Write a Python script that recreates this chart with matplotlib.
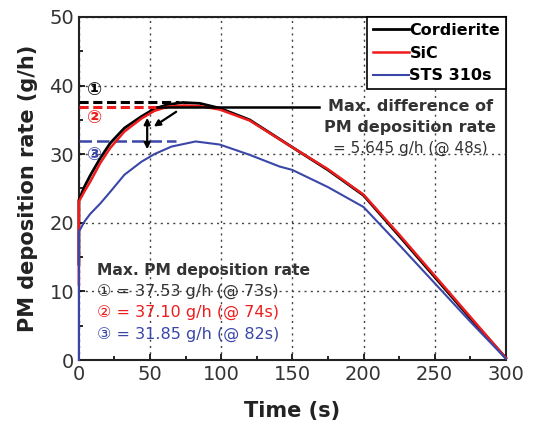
import matplotlib.pyplot as plt
import numpy as np

# PM deposition rate (g/h) vs time (s)
time = [0, 0, 4, 8, 15, 22, 32, 44, 53, 62, 73, 85, 99, 120, 150, 175, 200, 225, 250, 275, 300]
cordierite = [14, 23.3, 25.3, 26.9, 29.4, 31.6, 33.8, 35.5, 36.6, 37.2, 37.53, 37.4, 36.7,
              35.0, 31.0, 27.7, 24.0, 18.1, 12.1, 6.1, 0.3]
time_sic = [0, 0, 4, 8, 15, 22, 32, 44, 53, 62, 74, 85, 99, 120, 150, 175, 200, 225, 250, 275, 300]
sic = [11, 23.1, 24.6, 26.0, 28.7, 30.9, 33.3, 35.2, 36.3, 36.9, 37.10, 37.0, 36.5,
       34.9, 31.0, 27.8, 24.1, 18.3, 12.3, 6.3, 0.3]
time_sts = [0, 0, 4, 8, 15, 22, 32, 44, 53, 65, 82, 99, 120, 141, 150, 175, 200, 225, 250, 275, 300]
sts = [0, 18.7, 20.2, 21.3, 22.8, 24.5, 27.0, 28.9, 30.0, 31.1, 31.85, 31.4, 29.9,
       28.2, 27.7, 25.2, 22.3, 16.8, 11.2, 5.6, 0.2]

names = ['Cordierite', 'SiC', 'STS 310s']
colors = ['black', '#ee1c1c', '#3a47a8']
peak_vals = [37.53, 37.10, 31.85]
peak_times = [73, 74, 82]
circles = ['\u2460', '\u2461', '\u2462']
diff_time = 48
diff_val = 5.645

fig = plt.figure(figsize=(5.33, 4.34), dpi=100)
ax = fig.add_axes([0.148, 0.1705, 0.801, 0.7905])

ax.plot(time, cordierite, color=colors[0], lw=2, label=names[0], zorder=3, clip_on=False)
ax.plot(time_sic, sic, color=colors[1], lw=1.8, label=names[1], zorder=4, clip_on=False)
ax.plot(time_sts, sts, color=colors[2], lw=1.5, label=names[2], zorder=4, clip_on=False)

# dashed max lines
ax.plot([0, 70], [peak_vals[0], peak_vals[0]], color=colors[0], lw=2.2, ls=(0, (3, 1.5)), zorder=3)
ax.plot([0, 62], [peak_vals[1] - 0.25, peak_vals[1] - 0.25], color=colors[1], lw=2.2, ls=(0, (3, 1.5)), zorder=3)
ax.plot([0, 68], [peak_vals[2], peak_vals[2]], color=colors[2], lw=1.8, ls=(0, (5, 2)), zorder=3)

# circled markers
ax.text(11, 39.4, circles[0], color=colors[0], fontsize=13, fontweight='bold', ha='center', va='center')
ax.text(11, 35.3, circles[1], color=colors[1], fontsize=13, fontweight='bold', ha='center', va='center')
ax.text(11, 29.9, circles[2], color=colors[2], fontsize=13, fontweight='bold', ha='center', va='center')

# leader line + arrows
ax.plot([55, 169], [36.85, 36.85], color='black', lw=1.8, zorder=5)
ax.annotate('', xy=(diff_time, 30.3), xytext=(diff_time, 35.7),
            arrowprops=dict(arrowstyle='<|-|>', color='black', lw=1.6, mutation_scale=9))
ax.annotate('', xy=(51, 33.8), xytext=(70, 36.4),
            arrowprops=dict(arrowstyle='-|>', color='black', lw=1.6, mutation_scale=9))

ax.text(233, 36.9, 'Max. difference of', fontsize=11.5, fontweight='bold', color='#333333',
        ha='center', va='center')
ax.text(233, 33.9, 'PM deposition rate', fontsize=11.5, fontweight='bold', color='#333333',
        ha='center', va='center')
ax.text(233, 30.8, '= %.3f g/h (@ %ds)' % (diff_val, diff_time), fontsize=11, color='#333333',
        ha='center', va='center')

ax.text(13, 13.1, 'Max. PM deposition rate', fontsize=11.2, fontweight='bold', color='#333333',
        va='center')
for i in range(3):
    c = '#333333' if i == 0 else colors[i]
    ax.text(13, 10.0 - 3.1 * i, '%s = %.2f g/h (@ %ds)' % (circles[i], peak_vals[i], peak_times[i]),
            fontsize=11.5, color=c, va='center')

ax.set_xlim(0, 300)
ax.set_ylim(0, 50)
ax.set_xticks([0, 50, 100, 150, 200, 250, 300])
ax.set_yticks([0, 10, 20, 30, 40, 50])
ax.set_xticks(np.arange(25, 300, 50), minor=True)
ax.set_yticks(np.arange(5, 50, 10), minor=True)
ax.tick_params(which='both', direction='in', labelsize=14, labelcolor='#333333', width=1.2)
ax.tick_params(which='major', length=4)
ax.tick_params(which='minor', length=3)
ax.grid(True, which='major', ls=(0, (1.5, 3)), color='#444444', lw=1)
for s in ax.spines.values():
    s.set_linewidth(1.5)
    s.set_color('#222222')

ax.set_xlabel('Time (s)', fontsize=15, fontweight='bold', color='#222222', labelpad=12)
ax.set_ylabel('PM deposition rate (g/h)', fontsize=15, fontweight='bold', color='#222222', labelpad=8)

leg = ax.legend(loc='upper right', prop={'weight': 'bold', 'size': 11.5},
                frameon=True, fancybox=False, borderaxespad=0, handlelength=2.3,
                handletextpad=0, labelspacing=0.5, borderpad=0.35)
leg.get_frame().set_edgecolor('black')
leg.get_frame().set_linewidth(1.2)
leg.get_frame().set_alpha(1)

plt.savefig('out.png', dpi=100)
